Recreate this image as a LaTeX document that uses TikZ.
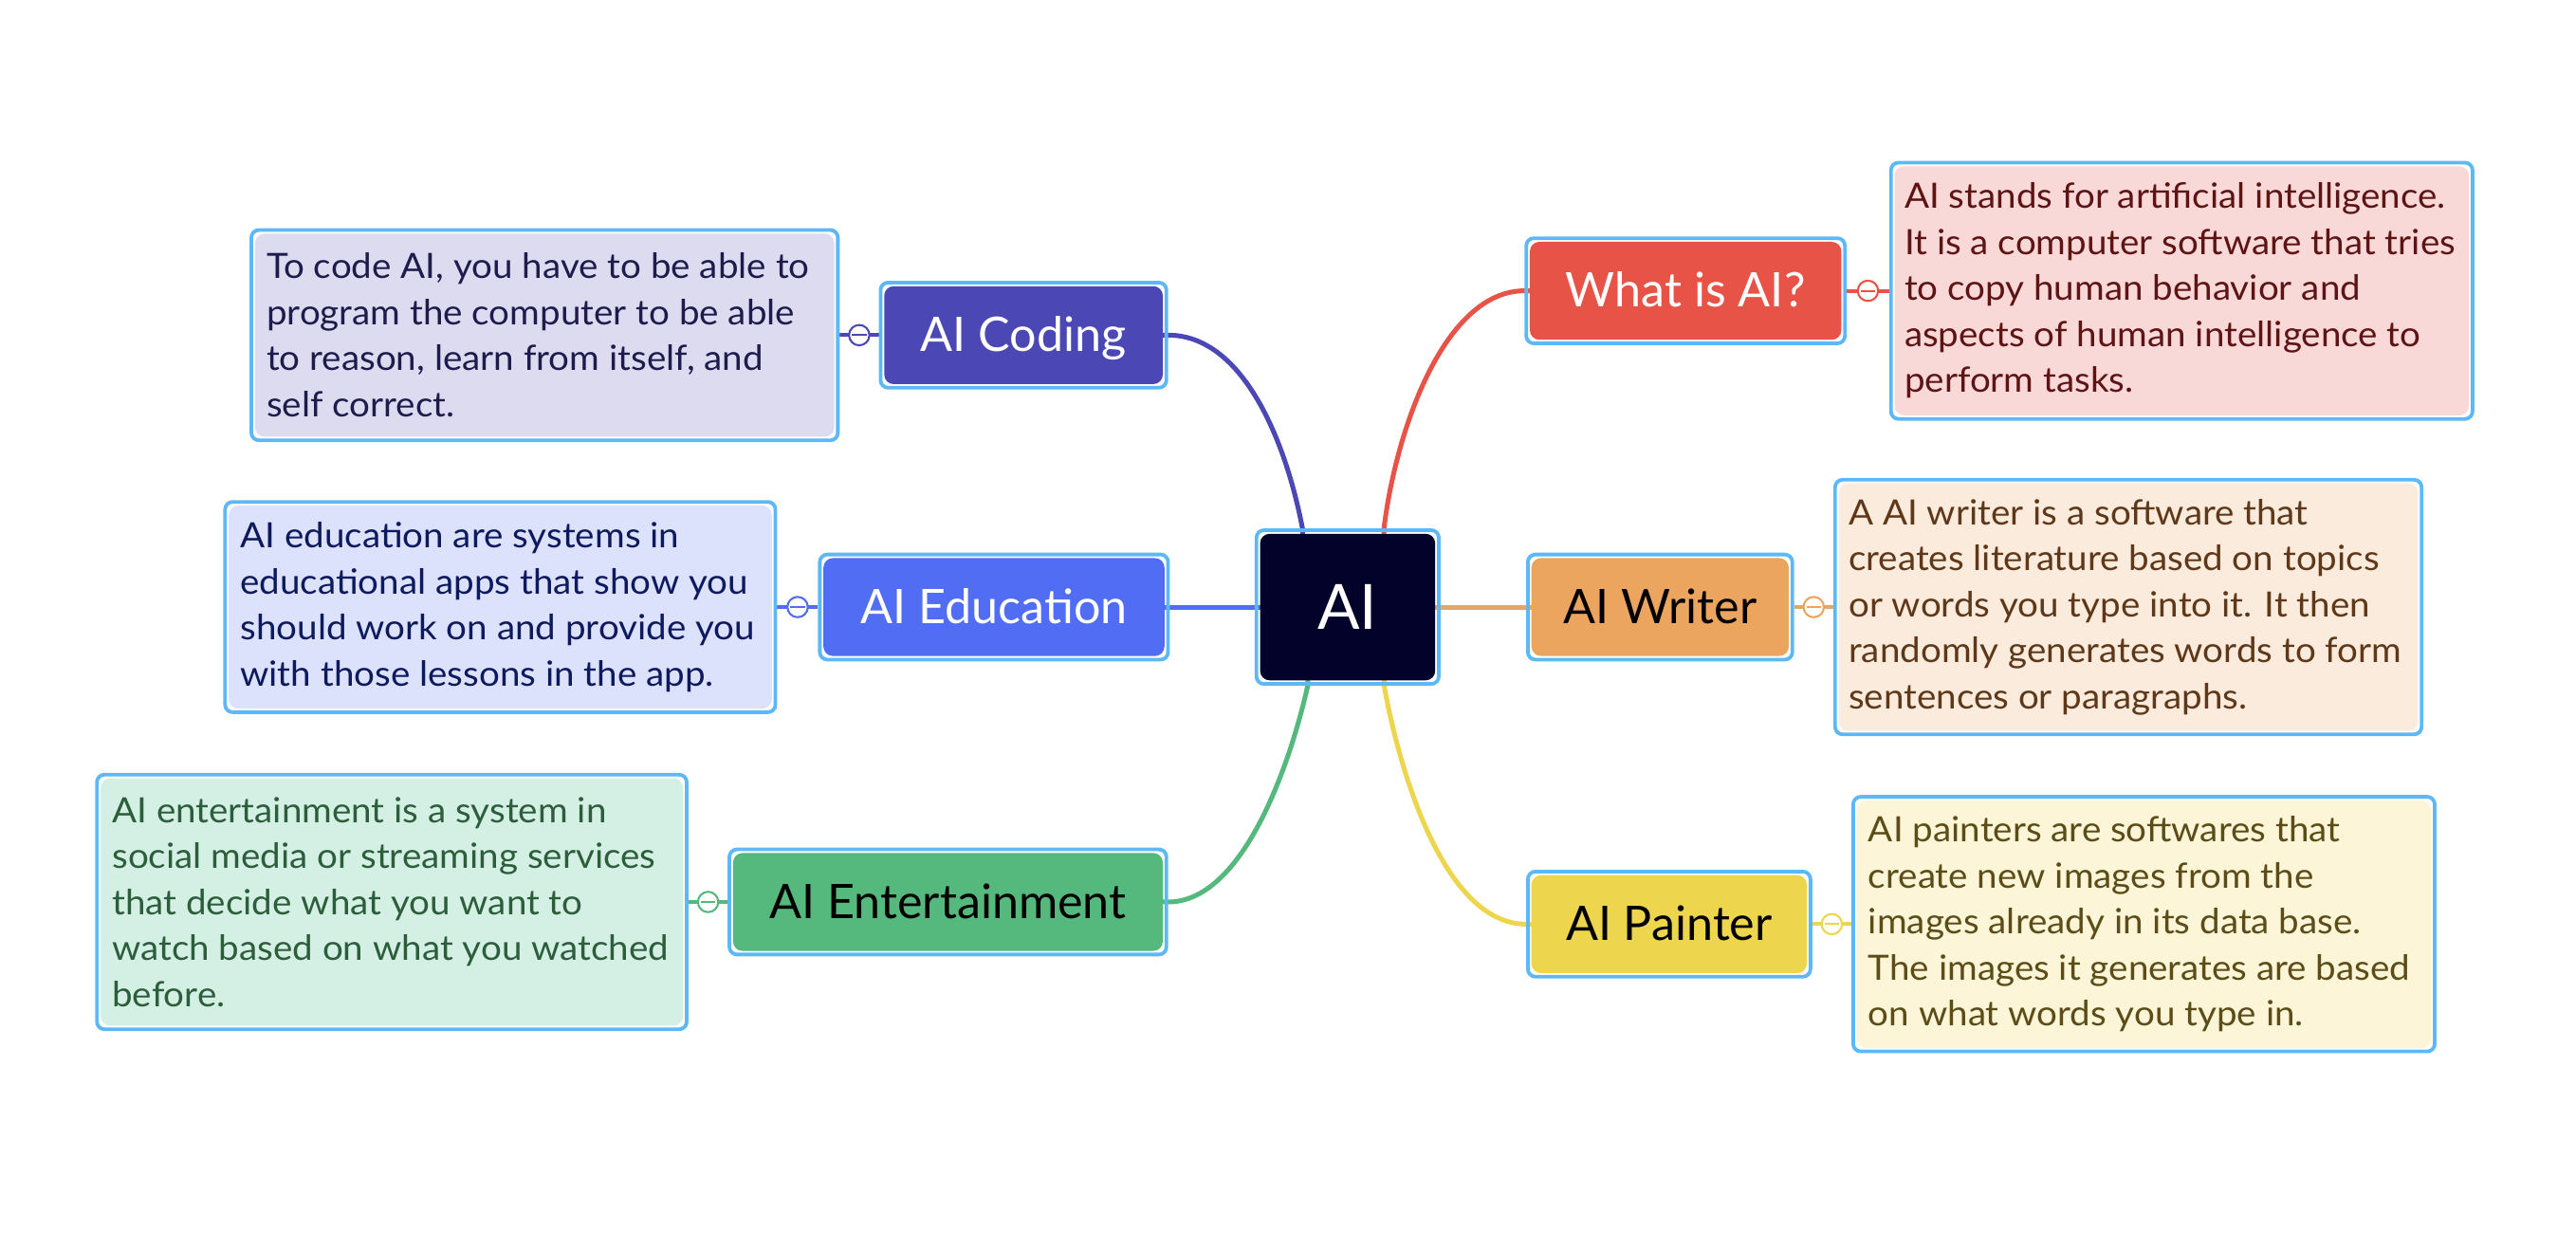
\documentclass[tikz,border=0pt]{standalone}
\usepackage{fontspec}
\setmainfont{Lato}
\newfontfamily\notefont[FakeStretch=1.05]{Lato}
\usetikzlibrary{calc}
\pgfdeclarelayer{bg}
\pgfsetlayers{bg,main}
\definecolor{frame}{HTML}{5DB8F7}
\definecolor{central}{HTML}{02022A}
\definecolor{cod}{HTML}{4B48B5}\definecolor{codnote}{HTML}{DCDBF0}\definecolor{codtext}{HTML}{1F1C4D}
\definecolor{edu}{HTML}{516DF4}\definecolor{edunote}{HTML}{DCE2FB}\definecolor{edutext}{HTML}{0E1A5E}
\definecolor{ent}{HTML}{55B97E}\definecolor{entnote}{HTML}{D4F0E5}\definecolor{enttext}{HTML}{2D5E3C}
\definecolor{wha}{HTML}{E75346}\definecolor{whanote}{HTML}{F8D9D8}\definecolor{whatext}{HTML}{5E1414}
\definecolor{wri}{HTML}{EBA55F}\definecolor{wrinote}{HTML}{FAEBDD}\definecolor{writext}{HTML}{5E3818}
\definecolor{pai}{HTML}{EED54E}\definecolor{painote}{HTML}{FCF5D7}\definecolor{paitext}{HTML}{5C4C18}
\tikzset{
  boxed/.style={draw=frame, line width=1.1pt, rounded corners=2.3pt, inner sep=0pt,
    path picture={\fill[#1, rounded corners=2.9pt]
      ([shift={(1.1pt,1.1pt)}]path picture bounding box.south west) rectangle
      ([shift={(-1.1pt,-1.1pt)}]path picture bounding box.north east);}},
  topic/.style 2 args={boxed=#1, text=#2, minimum height=32pt, text height=12.8pt, text depth=2.9pt,
    font=\fontsize{14.5}{17}\selectfont},
  note/.style={boxed=#1},
  notetext/.style={text=#1, anchor=west, align=left, inner sep=0pt, font=\notefont\fontsize{10.6}{14}\selectfont},
  conn/.style={draw=#1, line width=1.45pt},
  link/.style={draw=#1, line width=1.1pt},
  collapse/.style={circle, draw=#1, fill=white, line width=0.6pt, minimum size=6.2pt, inner sep=0pt},
  minus/.style={draw=#1, line width=0.6pt},
}
\begin{document}
\begin{tikzpicture}[x=0.5pt, y=-0.5pt]
\useasboundingbox (0,0) rectangle (1568,750.5);
% central
\node[boxed=central, minimum width=55.5pt, minimum height=46.8pt, text=white,
      font=\fontsize{19}{22}\selectfont] (ai) at (820.3,369.5) {AI};
% main topics
\node[topic={cod}{white}, minimum width=87pt] (coding) at (623,204) {AI Coding};
\node[topic={edu}{white}, minimum width=106pt] (edu) at (605,369.5) {AI Education};
\node[topic={ent}{black}, minimum width=133pt] (ent) at (577,549) {AI Entertainment};
\node[topic={wha}{white}, minimum width=97pt] (what) at (1026,177) {What is AI?};
\node[topic={wri}{black}, minimum width=80.5pt] (writer) at (1010.5,369.5) {AI Writer};
\node[topic={pai}{black}, minimum width=86pt] (painter) at (1016,562.5) {AI Painter};
% notes
\node[note=codnote, minimum width=178.5pt, minimum height=64pt] (codnote) at (331.5,204) {};
\node[note=edunote, minimum width=167.5pt, minimum height=64pt] (edunote) at (304.5,369.5) {};
\node[note=entnote, minimum width=179.5pt, minimum height=77.5pt] (entnote) at (238.5,549) {};
\node[note=whanote, minimum width=177pt, minimum height=78pt] (whanote) at (1328,177) {};
\node[note=wrinote, minimum width=178.5pt, minimum height=77.5pt] (wrinote) at (1295.5,369.5) {};
\node[note=painote, minimum width=177pt, minimum height=77.5pt] (painote) at (1305,562.5) {};
% note texts
\node[notetext=codtext] (codtxt) at ($(codnote.west)+(10,0)$)
  {To code AI, you have to be able to\\program the computer to be able\\to reason, learn from itself, and\\self correct.};
\node[notetext=edutext] (edutxt) at ($(edunote.west)+(10,0)$)
  {AI education are systems in\\educational apps that show you\\should work on and provide you\\with those lessons in the app.};
\node[notetext=enttext] (enttxt) at ($(entnote.west)+(10,0)$)
  {AI entertainment is a system in\\social media or streaming services\\that decide what you want to\\watch based on what you watched\\before.};
\node[notetext=whatext] (whatxt) at ($(whanote.west)+(9,0)$)
  {AI stands for artificial intelligence.\\It is a computer software that tries\\to copy human behavior and\\aspects of human intelligence to\\perform tasks.};
\node[notetext=writext] (writxt) at ($(wrinote.west)+(9,0)$)
  {A AI writer is a software that\\creates literature based on topics\\or words you type into it. It then\\randomly generates words to form\\sentences or paragraphs.};
\node[notetext=paitext] (paitxt) at ($(painote.west)+(10,0)$)
  {AI painters are softwares that\\create new images from the\\images already in its data base.\\The images it generates are based\\on what words you type in.};
% collapse markers
\node[collapse=cod] (codc) at ($(codnote.east)!0.5!(coding.west)$) {};
\node[collapse=edu] (educ) at ($(edunote.east)!0.5!(edu.west)$) {};
\node[collapse=ent] (entc) at ($(entnote.east)!0.5!(ent.west)$) {};
\node[collapse=wha] (whac) at ($(whanote.west)!0.5!(what.east)$) {};
\node[collapse=wri] (wric) at ($(wrinote.west)!0.5!(writer.east)$) {};
\node[collapse=pai] (paic) at ($(painote.west)!0.5!(painter.east)$) {};
\foreach \c/\k in {codc/cod,educ/edu,entc/ent,whac/wha,wric/wri,paic/pai}{
  \draw[minus=\k] ([xshift=-2.2pt]\c.center) -- ([xshift=2.2pt]\c.center);
}
\begin{pgfonlayer}{bg}
\draw[conn=cod] ($(ai.center)+(-27.5,0)$) -- ($(ai.north)+(-27.5,0)$)
  .. controls +(-11,-57) and +(44,0) .. (coding.east) -- (coding.center);
\draw[conn=edu] (ai.center) -- (edu.center);
\draw[conn=ent] ($(ai.center)+(-24.3,0)$) -- ($(ai.south)+(-24.3,0)$)
  .. controls +(-12,53) and +(44,0) .. (ent.east) -- (ent.center);
\draw[conn=wha] ($(ai.center)+(22.1,0)$) -- ($(ai.north)+(22.1,0)$)
  .. controls +(7.6,-62) and +(-48,0) .. (what.west) -- (what.center);
\draw[conn=wri] (ai.center) -- (writer.center);
\draw[conn=pai] ($(ai.center)+(22.2,0)$) -- ($(ai.south)+(22.2,0)$)
  .. controls +(9.5,53) and +(-49.5,0) .. (painter.west) -- (painter.center);
\draw[link=cod] (codnote.east) -- (coding.west);
\draw[link=edu] (edunote.east) -- (edu.west);
\draw[link=ent] (entnote.east) -- (ent.west);
\draw[link=wha] (whanote.west) -- (what.east);
\draw[link=wri] (wrinote.west) -- (writer.east);
\draw[link=pai] (painote.west) -- (painter.east);
\end{pgfonlayer}
\end{tikzpicture}
\end{document}
